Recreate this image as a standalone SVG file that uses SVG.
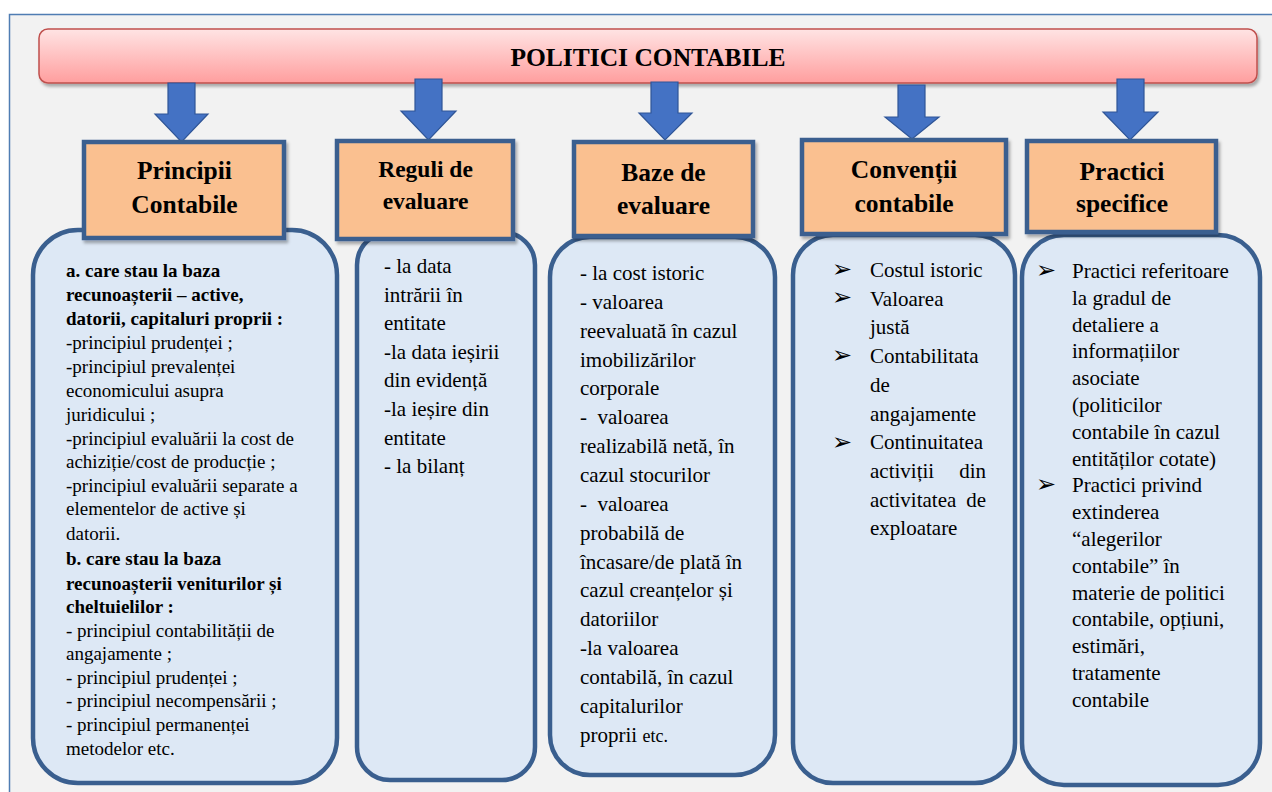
<svg xmlns="http://www.w3.org/2000/svg" width="1272" height="792" viewBox="0 0 1272 792">
<defs>
<linearGradient id="bannerGrad" x1="0" y1="0" x2="0" y2="1">
<stop offset="0" stop-color="#ffe4e4"/>
<stop offset="1" stop-color="#ff9e9e"/>
</linearGradient>
<filter id="shadow" x="-10%" y="-10%" width="120%" height="130%">
<feDropShadow dx="2" dy="3" stdDeviation="1.5" flood-color="#000" flood-opacity="0.3"/>
</filter>
</defs>
<style>
.frame{fill:#f2f2f2;stroke:#4f7db3;stroke-width:1.5}
.banner{fill:url(#bannerGrad);stroke:#c0504d;stroke-width:1.5}
.arrow{fill:#4472c4;stroke:#2f5597;stroke-width:1.2}
.hdr{fill:#fac090;stroke:#3a5f8f;stroke-width:4.5}
.body{fill:#dde8f5;stroke:#3a5f8f;stroke-width:4.5}
.title,.ht,.t1,.t,.t tspan,.t1 tspan{font-family:"Liberation Serif","Times New Roman",serif;fill:#000}
.title{font-size:25.5px;font-weight:bold;text-anchor:middle}
.ht{font-size:25.5px;font-weight:bold;text-anchor:middle}
.t1{font-size:19px}
.t{font-size:21px}
.b{font-weight:bold}
.bul{font-family:"DejaVu Sans",sans-serif;font-size:24px;fill:#000}
</style>
<rect width="1272" height="792" fill="#ffffff"/>
<rect class="frame" x="9.5" y="14.5" width="1280" height="800"/>

<g id="banner">
<rect class="banner" x="39" y="29" width="1218" height="54" rx="9" filter="url(#shadow)"/>
<text class="title" x="648" y="66">POLITICI CONTABILE</text>
</g>

<g id="connectors">
<polygon class="arrow" points="168,83 195,83 195,114 208,114 181.5,142 155,114 168,114"/>
<polygon class="arrow" points="415,79 442,79 442,111 456,111 428.5,140 401,111 415,111"/>
<polygon class="arrow" points="651,82 678,82 678,113 692,113 665,140 639,113 651,113"/>
<polygon class="arrow" points="898,85 925,85 925,117 939,117 912,139 885,117 898,117"/>
<polygon class="arrow" points="1117,79 1144,79 1144,112 1158,112 1130,140 1103,112 1117,112"/>
</g>

<g id="col-principii">
<rect class="body" x="33" y="230" width="304" height="553" rx="45"/>
<rect class="hdr" x="84" y="142" width="200" height="96" filter="url(#shadow)"/>
<text class="ht" x="184.5" y="179">Principii</text>
<text class="ht" x="184.5" y="213">Contabile</text>
<text class="t1 b" x="66" y="277">a. care stau la baza</text>
<text class="t1 b" x="66" y="301">recunoașterii – active,</text>
<text class="t1 b" x="66" y="325">datorii, capitaluri proprii :</text>
<text class="t1" x="66" y="348.5">-principiul prudenței ;</text>
<text class="t1" x="66" y="372.5">-principiul prevalenței</text>
<text class="t1" x="66" y="396.5">economicului asupra</text>
<text class="t1" x="66" y="420.5">juridicului ;</text>
<text class="t1" x="66" y="444.5">-principiul evaluării la cost de</text>
<text class="t1" x="66" y="468">achiziție/cost de producție ;</text>
<text class="t1" x="66" y="491.5">-principiul evaluării separate a</text>
<text class="t1" x="66" y="515">elementelor de active și</text>
<text class="t1" x="66" y="540">datorii.</text>
<text class="t1 b" x="66" y="565">b. care stau la baza</text>
<text class="t1 b" x="66" y="590">recunoașterii veniturilor și</text>
<text class="t1 b" x="66" y="613">cheltuielilor :</text>
<text class="t1" x="66" y="637">- principiul contabilității de</text>
<text class="t1" x="66" y="660">angajamente ;</text>
<text class="t1" x="66" y="683.5">- principiul prudenței ;</text>
<text class="t1" x="66" y="707">- principiul necompensării ;</text>
<text class="t1" x="66" y="730.5">- principiul permanenței</text>
<text class="t1" x="66" y="755">metodelor etc.</text>
</g>

<g id="col-reguli">
<rect class="body" x="357" y="232" width="178" height="548" rx="33"/>
<rect class="hdr" x="337" y="141" width="176" height="98" filter="url(#shadow)"/>
<text class="ht" x="425.5" y="177" style="font-size:23.5px">Reguli de</text>
<text class="ht" x="425.5" y="209" style="font-size:23.5px">evaluare</text>
<text class="t" x="384" y="273">- la data</text>
<text class="t" x="384" y="301.6">intrării în</text>
<text class="t" x="384" y="330.2">entitate</text>
<text class="t" x="384" y="358.8">-la data ieșirii</text>
<text class="t" x="384" y="387.4">din evidență</text>
<text class="t" x="384" y="416">-la ieșire din</text>
<text class="t" x="384" y="444.6">entitate</text>
<text class="t" x="384" y="473.2">- la bilanț</text>
</g>

<g id="col-baze">
<rect class="body" x="550" y="237" width="225" height="538" rx="40"/>
<rect class="hdr" x="574" y="142" width="179" height="94" filter="url(#shadow)"/>
<text class="ht" x="663.5" y="181">Baze de</text>
<text class="ht" x="663.5" y="214">evaluare</text>
<text class="t" x="580" y="280">- la cost istoric</text>
<text class="t" x="580" y="308.9">- valoarea</text>
<text class="t" x="580" y="337.7">reevaluată în cazul</text>
<text class="t" x="580" y="366.6">imobilizărilor</text>
<text class="t" x="580" y="395.4">corporale</text>
<text class="t" x="580" y="424.3" xml:space="preserve">-  valoarea</text>
<text class="t" x="580" y="453.1">realizabilă netă, în</text>
<text class="t" x="580" y="482">cazul stocurilor</text>
<text class="t" x="580" y="510.8" xml:space="preserve">-  valoarea</text>
<text class="t" x="580" y="539.7">probabilă de</text>
<text class="t" x="580" y="568.5">încasare/de plată în</text>
<text class="t" x="580" y="597.4">cazul creanțelor și</text>
<text class="t" x="580" y="626.2">datoriilor</text>
<text class="t" x="580" y="655.1">-la valoarea</text>
<text class="t" x="580" y="683.9">contabilă, în cazul</text>
<text class="t" x="580" y="712.8">capitalurilor</text>
<text class="t" x="580" y="741.6">proprii <tspan style="font-size:18px">etc.</tspan></text>
</g>

<g id="col-conventii">
<rect class="body" x="793" y="235" width="222" height="548" rx="40"/>
<rect class="hdr" x="802" y="140" width="204" height="94" filter="url(#shadow)"/>
<text class="ht" x="904" y="178">Convenții</text>
<text class="ht" x="904" y="211.5">contabile</text>
<text class="bul" x="832" y="277">➢</text>
<text class="bul" x="832" y="305">➢</text>
<text class="bul" x="832" y="363">➢</text>
<text class="bul" x="832" y="450">➢</text>
<text class="t" x="870" y="277">Costul istoric</text>
<text class="t" x="870" y="305.7">Valoarea</text>
<text class="t" x="870" y="334.4">justă</text>
<text class="t" x="870" y="363.1">Contabilitata</text>
<text class="t" x="870" y="391.8">de</text>
<text class="t" x="870" y="420.5">angajamente</text>
<text class="t" x="870" y="449.2">Continuitatea</text>
<text class="t" x="870" y="477.9">activiții</text>
<text class="t" x="986" y="477.9" text-anchor="end">din</text>
<text class="t" x="870" y="506.6">activitatea</text>
<text class="t" x="986" y="506.6" text-anchor="end">de</text>
<text class="t" x="870" y="535.3">exploatare</text>
</g>

<g id="col-practici">
<rect class="body" x="1022" y="235" width="238" height="550" rx="42"/>
<rect class="hdr" x="1027" y="141" width="189" height="91" filter="url(#shadow)"/>
<text class="ht" x="1122" y="180">Practici</text>
<text class="ht" x="1122" y="211.5">specifice</text>
<text class="bul" x="1036" y="278">➢</text>
<text class="bul" x="1036" y="492">➢</text>
<text class="t" x="1072" y="278">Practici referitoare</text>
<text class="t" x="1072" y="304.8">la gradul de</text>
<text class="t" x="1072" y="331.6">detaliere a</text>
<text class="t" x="1072" y="358.4">informațiilor</text>
<text class="t" x="1072" y="385.2">asociate</text>
<text class="t" x="1072" y="412">(politicilor</text>
<text class="t" x="1072" y="438.8">contabile în cazul</text>
<text class="t" x="1072" y="465.6">entităților cotate)</text>
<text class="t" x="1072" y="492.4">Practici privind</text>
<text class="t" x="1072" y="519.2">extinderea</text>
<text class="t" x="1072" y="546">“alegerilor</text>
<text class="t" x="1072" y="572.8">contabile” în</text>
<text class="t" x="1072" y="599.6">materie de politici</text>
<text class="t" x="1072" y="626.4">contabile, opțiuni,</text>
<text class="t" x="1072" y="653.2">estimări,</text>
<text class="t" x="1072" y="680">tratamente</text>
<text class="t" x="1072" y="706.8">contabile</text>
</g>
</svg>
